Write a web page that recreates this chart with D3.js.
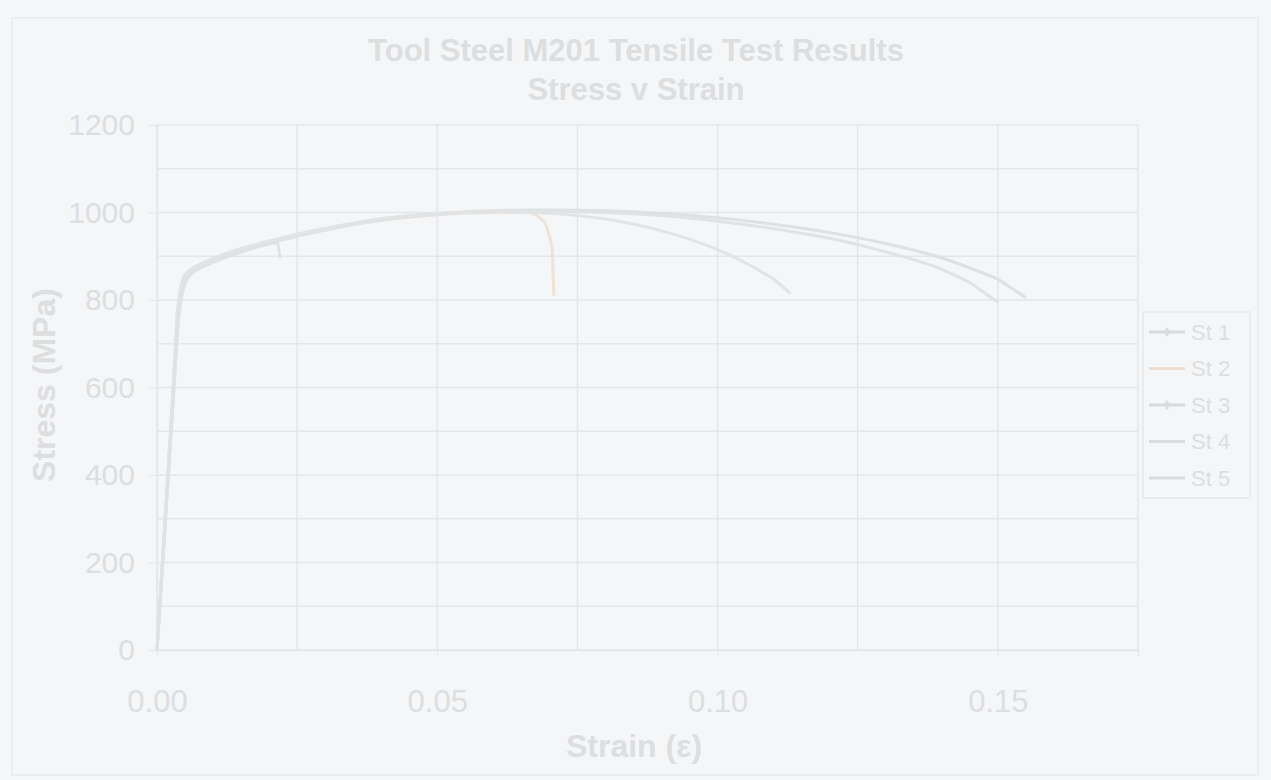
<!DOCTYPE html>
<html>
<head>
<meta charset="utf-8">
<script src="https://cdn.jsdelivr.net/npm/d3@7"></script>
<style>
  body { margin: 0; background: #f5f6f8; }
  svg { display: block; font-family: Arial, "Liberation Sans", sans-serif; }
</style>
</head>
<body>
<div id="chart"></div>
<script>
// Datos (deformación, esfuerzo MPa)
const series_names = ['St 1', 'St 2', 'St 3', 'St 4', 'St 5']
const series_colors = ['#dde1e4', '#efe2d6', '#dfe3e4', '#e1e4e6', '#dfe2e4']

const st1_strain = [0, 0.001, 0.002, 0.003, 0.0038, 0.005, 0.008, 0.012, 0.02, 0.03, 0.04, 0.05, 0.06, 0.07, 0.08, 0.09, 0.10, 0.11, 0.12, 0.13, 0.14, 0.15, 0.155]
const st1_stress = [0, 205, 410, 615, 780, 855, 882, 903, 932, 962, 985, 998, 1004, 1006, 1004, 998, 988, 973, 954, 929, 896, 848, 805]

const st2_strain = [0, 0.001, 0.002, 0.003, 0.004, 0.0055, 0.009, 0.014, 0.02, 0.03, 0.04, 0.05, 0.06, 0.066, 0.069, 0.0705, 0.0708]
const st2_stress = [0, 200, 400, 600, 790, 860, 888, 910, 930, 960, 982, 995, 1000, 1000, 980, 920, 810]

const st3_strain = [0, 0.001, 0.002, 0.003, 0.004, 0.0055, 0.008, 0.012, 0.02, 0.03, 0.04, 0.05, 0.06, 0.07, 0.08, 0.09, 0.10, 0.11, 0.12, 0.13, 0.14, 0.145, 0.15]
const st3_stress = [0, 195, 390, 590, 775, 850, 878, 900, 930, 960, 983, 996, 1002, 1003, 1000, 993, 980, 963, 941, 910, 870, 840, 795]

const st4_strain = [0, 0.001, 0.002, 0.003, 0.0037, 0.005, 0.008, 0.012, 0.02, 0.03, 0.04, 0.05, 0.06, 0.07, 0.08, 0.09, 0.10, 0.105, 0.11, 0.113]
const st4_stress = [0, 210, 420, 630, 785, 858, 884, 905, 935, 964, 986, 998, 1002, 998, 985, 958, 915, 885, 848, 815]

const st5_strain = [0, 0.001, 0.002, 0.003, 0.004, 0.0055, 0.009, 0.014, 0.019, 0.0215, 0.022]
const st5_stress = [0, 200, 405, 605, 785, 852, 880, 905, 925, 932, 895]

const y_ticks = [0, 200, 400, 600, 800, 1000, 1200]
const x_ticks = [0, 0.05, 0.10, 0.15]

// Une las listas en puntos para d3.line
const zip = (xs, ys) => xs.map((x, i) => ({ strain: x, stress: ys[i] }))
const all_series = [
  zip(st1_strain, st1_stress),
  zip(st2_strain, st2_stress),
  zip(st3_strain, st3_stress),
  zip(st4_strain, st4_stress),
  zip(st5_strain, st5_stress)
]

const width = 1271, height = 780
const margin = { top: 125, right: 133, bottom: 130, left: 157 }

const svg = d3.select('#chart').append('svg')
  .attr('width', width)
  .attr('height', height)

const text_color = '#dcdee0'
const grid_color = '#e4e6e8'

// Borde exterior del gráfico
svg.append('rect')
  .attr('x', 12).attr('y', 18)
  .attr('width', 1246).attr('height', 757)
  .attr('fill', '#f5f6f8')
  .attr('stroke', '#e8eaec')
  .attr('stroke-width', 1.5)

// Escalas
const x = d3.scaleLinear()
  .domain([0, 0.175])
  .range([margin.left, width - margin.right])

const y = d3.scaleLinear()
  .domain([0, 1200])
  .range([height - margin.bottom, margin.top])

// Grilla menor y mayor
const grid = svg.append('g')
grid.selectAll('.hgrid')
  .data(d3.range(0, 1201, 100))
  .enter()
  .append('line')
  .attr('x1', x(0)).attr('x2', x(0.175))
  .attr('y1', d => y(d)).attr('y2', d => y(d))
  .attr('stroke', grid_color)
  .attr('stroke-width', 1.5)

grid.selectAll('.vgrid')
  .data(d3.range(0, 8).map(i => i * 0.025))
  .enter()
  .append('line')
  .attr('x1', d => x(d)).attr('x2', d => x(d))
  .attr('y1', y(0)).attr('y2', y(1200))
  .attr('stroke', grid_color)
  .attr('stroke-width', 1.5)

// Ejes
const y_axis = svg.append('g')
  .attr('transform', `translate(${margin.left},0)`)
  .call(d3.axisLeft(y).tickValues(y_ticks).tickSize(8).tickPadding(14).tickFormat(d3.format('d')))
y_axis.select('.domain').attr('stroke', grid_color).attr('stroke-width', 1.5)
y_axis.selectAll('.tick line').attr('stroke', grid_color)
y_axis.selectAll('text')
  .attr('fill', text_color)
  .attr('font-size', 30)

const x_axis = svg.append('g')
  .attr('transform', `translate(0,${y(0)})`)
  .call(d3.axisBottom(x).tickValues(x_ticks).tickSize(6).tickPadding(34).tickFormat(d3.format('.2f')))
x_axis.select('.domain').attr('stroke', grid_color).attr('stroke-width', 1.5)
x_axis.selectAll('.tick line').attr('stroke', grid_color)
x_axis.selectAll('text')
  .attr('fill', text_color)
  .attr('font-size', 31)

// Curvas
const line = d3.line()
  .x(d => x(d.strain))
  .y(d => y(d.stress))
  .curve(d3.curveMonotoneX)

svg.append('g')
  .selectAll('path')
  .data(all_series)
  .enter()
  .append('path')
  .attr('d', d => line(d.slice(0, -1)) + `L${x(d[d.length - 1].strain)},${y(d[d.length - 1].stress)}`)
  .attr('fill', 'none')
  .attr('stroke', (d, i) => series_colors[i])
  .attr('stroke-width', 3)
  .attr('stroke-linejoin', 'round')

// Títulos
svg.append('text')
  .attr('x', 636).attr('y', 61)
  .attr('text-anchor', 'middle')
  .attr('font-size', 31).attr('font-weight', 'bold')
  .attr('fill', text_color)
  .text('Tool Steel M201 Tensile Test Results')

svg.append('text')
  .attr('x', 636).attr('y', 100)
  .attr('text-anchor', 'middle')
  .attr('font-size', 31).attr('font-weight', 'bold')
  .attr('fill', text_color)
  .text('Stress v Strain')

svg.append('text')
  .attr('x', 634).attr('y', 757)
  .attr('text-anchor', 'middle')
  .attr('font-size', 32).attr('font-weight', 'bold')
  .attr('fill', text_color)
  .text('Strain (ε)')

svg.append('text')
  .attr('transform', 'translate(55,385) rotate(-90)')
  .attr('text-anchor', 'middle')
  .attr('font-size', 32).attr('font-weight', 'bold')
  .attr('fill', text_color)
  .text('Stress (MPa)')

// Leyenda
const legend = svg.append('g')
  .attr('transform', 'translate(1143,312)')

legend.append('rect')
  .attr('width', 107).attr('height', 186)
  .attr('fill', '#f5f6f8')
  .attr('stroke', '#e6e8ea')
  .attr('stroke-width', 1.5)

const items = legend.selectAll('.item')
  .data(series_names)
  .enter()
  .append('g')
  .attr('transform', (d, i) => `translate(0,${20 + i * 36.5})`)

items.append('line')
  .attr('x1', 6).attr('x2', 42)
  .attr('stroke', (d, i) => series_colors[i] === '#efe2d6' ? '#f0ddcc' : '#d8dcdf')
  .attr('stroke-width', 3)

items.filter((d, i) => i === 0 || i === 2)
  .append('path')
  .attr('transform', 'translate(24,0)')
  .attr('d', d3.symbol().type(d3.symbolCross).size(40))
  .attr('fill', '#d8dcdf')

items.append('text')
  .attr('x', 48).attr('dy', '0.35em')
  .attr('font-size', 22)
  .attr('fill', text_color)
  .text(d => d)
</script>
</body>
</html>
